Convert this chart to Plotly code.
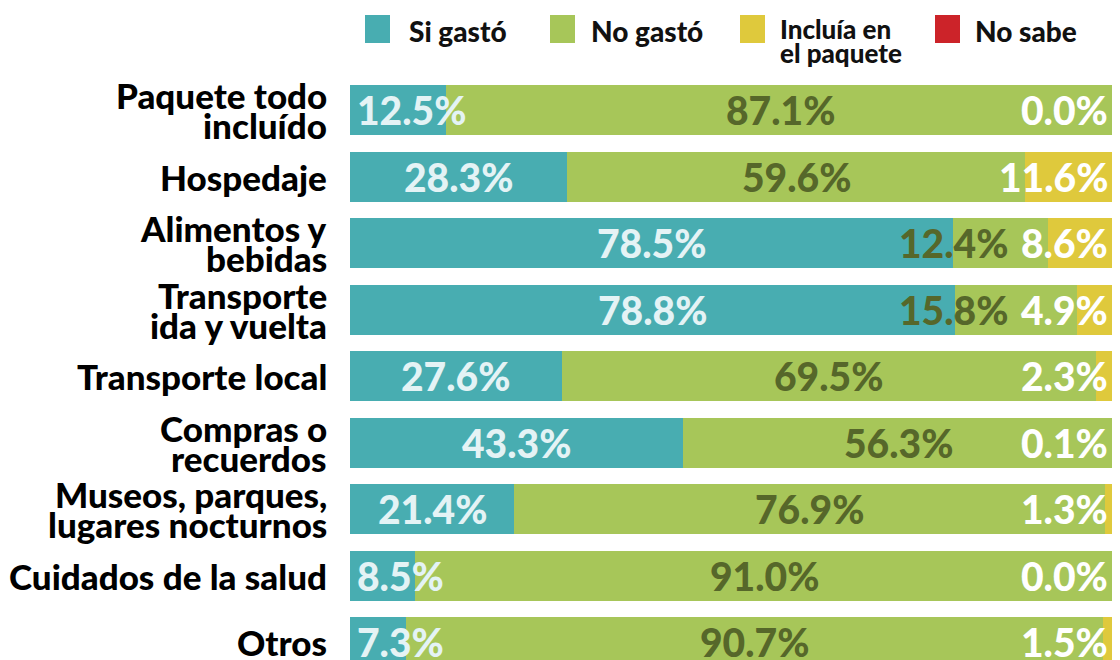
import plotly.graph_objects as go

categories = ["Paquete todo<br>incluído", "Hospedaje", "Alimentos y<br>bebidas",
              "Transporte<br>ida y vuelta", "Transporte local", "Compras o<br>recuerdos",
              "Museos, parques,<br>lugares nocturnos", "Cuidados de la salud", "Otros"]
si_gasto = [12.5, 28.3, 78.5, 78.8, 27.6, 43.3, 21.4, 8.5, 7.3]
no_gasto = [87.1, 59.6, 12.4, 15.8, 69.5, 56.3, 76.9, 91.0, 90.7]
incluia = [0.0, 11.6, 8.6, 4.9, 2.3, 0.1, 1.3, 0.0, 1.5]
no_sabe = [0.4, 0.5, 0.5, 0.5, 0.6, 0.3, 0.4, 0.5, 0.5]

series_names = ["Si gastó", "No gastó", "Incluía en<br>el paquete", "No sabe"]
series_colors = ["#48adb1", "#a7c659", "#dfc93c", "#cc2329"]
series_values = [si_gasto, no_gasto, incluia, no_sabe]

FONT = "Lato"
OFF = 8  # page body margin in the browser
W, H = 1120 - OFF, 660 - OFF
ML, MR, MT, MB = 350 - OFF, 2, 77 - OFF, 0


def px_x(px):
    return (px - OFF - ML) / (W - ML - MR)


def px_y(py):
    return (H - MB - (py - OFF)) / (H - MT - MB)


fig = go.Figure()
for name, vals, col in zip(series_names, series_values, series_colors):
    fig.add_trace(go.Bar(
        y=categories, x=vals, name=name.replace("<br>", " "), orientation="h",
        marker=dict(color=col, line=dict(width=0)),
        hoverinfo="x+name", showlegend=False,
    ))

vfont = dict(family=FONT, size=39, weight=900)
annotations = []
shapes = []
for i, cat in enumerate(categories):
    s, n, inc = si_gasto[i], no_gasto[i], incluia[i]
    if s < 15:
        annotations.append(dict(x=0.6, y=cat, text=f"{s:.1f}%", xanchor="left",
                                font=dict(vfont, color="#e4f3f5")))
    else:
        annotations.append(dict(x=s / 2, y=cat, text=f"{s:.1f}%", xanchor="center",
                                font=dict(vfont, color="#e4f3f5")))
    if n < 20:
        annotations.append(dict(x=86, y=cat, text=f"{n:.1f}%", xanchor="right",
                                font=dict(vfont, color="#56672a")))
    else:
        annotations.append(dict(x=s + n / 2, y=cat, text=f"{n:.1f}%", xanchor="center",
                                font=dict(vfont, color="#56672a")))
    annotations.append(dict(x=99.0, y=cat, text=f"{inc:.1f}%", xanchor="right",
                            font=dict(vfont, color="#ffffff")))
    # category label
    lines = cat.split("<br>")
    shifts = [0] if len(lines) == 1 else [15, -15]
    for ln, sh in zip(lines, shifts):
        annotations.append(dict(x=0, xref="paper", y=cat, text=ln, xanchor="right",
                                xshift=-21, yshift=sh,
                                font=dict(family=FONT, size=35, color="#000000", weight=900)))

for a in annotations:
    a.setdefault("xref", "x")
    a.setdefault("yref", "y")
    a["showarrow"] = False
    a.setdefault("yanchor", "middle")

# legend (custom, larger keys)
leg_keys = [365, 550, 740, 935]
leg_text_x = [407, 589, 778, 973]
for name, col, kx, tx in zip(series_names, series_colors, leg_keys, leg_text_x):
    shapes.append(dict(type="rect", xref="paper", yref="paper",
                       x0=px_x(kx), x1=px_x(kx + 25), y0=px_y(43), y1=px_y(15),
                       fillcolor=col, line=dict(width=0), layer="above"))
    lines = name.split("<br>")
    ys = [31] if len(lines) == 1 else [29, 53]
    size = 28 if len(lines) == 1 else 26
    for ln, yy in zip(lines, ys):
        annotations.append(dict(x=px_x(tx), y=px_y(yy), xref="paper", yref="paper",
                                text=ln, showarrow=False, xanchor="left", yanchor="middle",
                                font=dict(family=FONT, size=size, color="#111111", weight=900)))

fig.update_layout(
    width=W, height=H,
    margin=dict(l=ML, r=MR, t=MT, b=MB, autoexpand=False),
    paper_bgcolor="white", plot_bgcolor="white",
    barmode="stack", bargap=0.25,
    showlegend=False,
    annotations=annotations, shapes=shapes,
    xaxis=dict(range=[0, 100], visible=False, fixedrange=True, automargin=False),
    yaxis=dict(autorange=False, range=[8.27, -0.5], type="category",
               showticklabels=False, ticks="", showgrid=False, showline=False,
               automargin=False),
)
fig.write_html("out.html")
